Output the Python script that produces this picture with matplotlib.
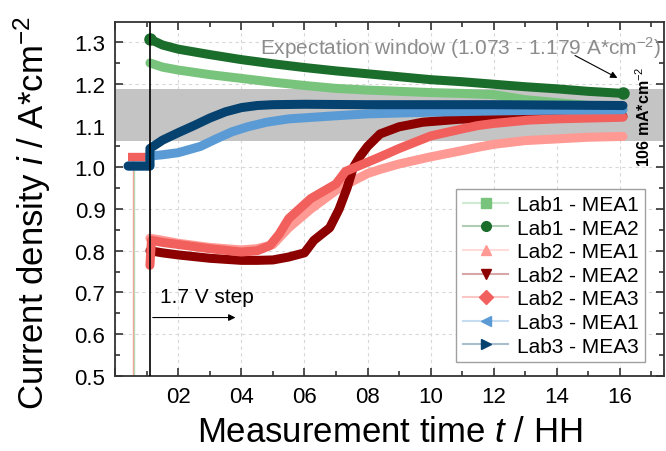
import matplotlib
matplotlib.use("Agg")
import matplotlib.pyplot as plt
from matplotlib.lines import Line2D
from matplotlib.colors import to_rgb
from matplotlib.ticker import MultipleLocator, FuncFormatter

plt.rcParams["font.family"] = ["Liberation Sans", "DejaVu Sans"]
plt.rcParams["mathtext.fontset"] = "custom"
plt.rcParams["mathtext.rm"] = "Liberation Sans"
plt.rcParams["mathtext.it"] = "Liberation Sans:italic"

# Dados (tempo em horas, densidade de corrente em A/cm2)
lab1_mea1_t = [1.1, 1.5, 2, 3, 4, 5, 6, 7, 8, 9, 10, 11, 12, 13, 14, 15, 16.1]
lab1_mea1_y = [1.250, 1.240, 1.233, 1.222, 1.213, 1.204, 1.196, 1.189, 1.185,
               1.182, 1.179, 1.177, 1.174, 1.162, 1.155, 1.148, 1.140]

lab1_mea2_t = [1.1, 1.5, 2, 3, 4, 5, 6, 7, 8, 9, 10, 11, 12, 13, 14, 15, 16.1]
lab1_mea2_y = [1.307, 1.293, 1.283, 1.270, 1.258, 1.248, 1.239, 1.231, 1.224,
               1.217, 1.210, 1.205, 1.199, 1.193, 1.188, 1.182, 1.177]

lab2_mea1_t = [1.1, 1.5, 2, 3, 4, 4.5, 5, 5.5, 6.2, 7.1, 8, 8.4, 9, 10, 11,
               11.5, 12, 13, 14, 15, 16.1]
lab2_mea1_y = [0.830, 0.825, 0.818, 0.808, 0.802, 0.805, 0.815, 0.855, 0.900,
               0.950, 0.985, 0.995, 1.008, 1.025, 1.040, 1.048, 1.055, 1.064,
               1.068, 1.072, 1.074]

lab2_mea2_t = [1.1, 1.5, 2, 3, 4, 4.5, 5, 5.5, 6.0, 6.3, 6.8, 7.1, 7.35, 7.55,
               7.77, 8.0, 8.4, 9, 9.75, 10.9, 12, 14, 16.1]
lab2_mea2_y = [0.800, 0.795, 0.790, 0.782, 0.777, 0.777, 0.778, 0.785, 0.795,
               0.825, 0.855, 0.900, 0.950, 1.000, 1.027, 1.050, 1.080, 1.097,
               1.108, 1.115, 1.118, 1.120, 1.122]

lab2_mea3_t = [1.1, 1.15, 1.5, 2, 3, 4, 4.5, 4.9, 5.2, 5.5, 6.2, 7, 7.3, 8.4,
               9, 10, 11, 11.5, 12, 13.1, 14, 15, 16.1]
lab2_mea3_y = [0.765, 0.825, 0.820, 0.815, 0.805, 0.797, 0.800, 0.812, 0.840,
               0.877, 0.925, 0.960, 0.990, 1.025, 1.045, 1.075, 1.092, 1.100,
               1.105, 1.113, 1.116, 1.118, 1.120]

lab3_mea1_t = [0.41, 1.1, 1.1, 1.5, 2, 2.7, 3.2, 3.7, 4.2, 4.8, 5.5, 6.9, 8,
               10, 12, 14, 16.1]
lab3_mea1_y = [1.003, 1.003, 1.027, 1.030, 1.035, 1.050, 1.068, 1.085, 1.097,
               1.108, 1.116, 1.123, 1.128, 1.132, 1.135, 1.137, 1.138]

lab3_mea3_t = [0.41, 1.1, 1.1, 1.5, 2, 2.5, 3, 3.5, 4, 4.5, 5, 6, 8, 10, 12,
               14, 16.1]
lab3_mea3_y = [1.003, 1.003, 1.045, 1.065, 1.083, 1.100, 1.118, 1.133, 1.143,
               1.148, 1.150, 1.151, 1.150, 1.150, 1.150, 1.149, 1.148]

# trecho antes do degrau (Lab2)
pre_t = [0.41, 1.1]
pre_y = [1.025, 1.025]

janela = (1.062, 1.188)
t_degrau = 1.1
t_inicio = 0.57

series = [
    ("Lab1 - MEA1", lab1_mea1_t, lab1_mea1_y, "#79c47c", "s"),
    ("Lab1 - MEA2", lab1_mea2_t, lab1_mea2_y, "#1b6d2c", "o"),
    ("Lab2 - MEA1", lab2_mea1_t, lab2_mea1_y, "#ff9994", "^"),
    ("Lab2 - MEA2", lab2_mea2_t, lab2_mea2_y, "#8c0000", "v"),
    ("Lab2 - MEA3", lab2_mea3_t, lab2_mea3_y, "#f2605d", "D"),
    ("Lab3 - MEA1", lab3_mea1_t, lab3_mea1_y, "#5b9bd5", "<"),
    ("Lab3 - MEA3", lab3_mea3_t, lab3_mea3_y, "#06426f", ">"),
]


def clarear(cor, f=0.65):
    r, g, b = to_rgb(cor)
    return (r + (1 - r) * f, g + (1 - g) * f, b + (1 - b) * f)


fig = plt.figure(figsize=(6.66, 4.52), dpi=100)
ax = fig.add_axes([0.173, 0.166, 0.824, 0.783])

ax.axhspan(janela[0], janela[1], color="#c4c4c4", lw=0, zorder=1)

ax.vlines(t_inicio, 0.5, 1.02, color="#ff9994", lw=1, zorder=2)
ax.vlines(t_inicio + 0.04, 0.5, 1.0, color="#b5dbb5", lw=1, zorder=2)
ax.plot(pre_t, pre_y, color="#f2605d", lw=6, solid_capstyle="butt", zorder=3)

handles = []
for nome, t, y, cor, mk in series:
    ax.plot(t, y, color=cor, lw=6.5, solid_capstyle="round",
            solid_joinstyle="round", zorder=3)
    handles.append(Line2D([], [], color=clarear(cor), lw=1.5, marker=mk,
                          ms=7, mfc=cor, mec=cor, label=nome))
# circulos nas pontas do Lab1 - MEA2
ax.plot(lab1_mea2_t[-1], lab1_mea2_y[-1], "o", color="#1b6d2c", ms=8, zorder=3)
ax.plot(lab1_mea2_t[0], lab1_mea2_y[0], "o", color="#1b6d2c", ms=8, zorder=3)

ax.axvline(t_degrau, color="black", lw=1.2, zorder=4)

ax.set_xlim(0, 17.4)
ax.set_ylim(0.5, 1.348)
ax.xaxis.set_major_locator(MultipleLocator(2))
ax.xaxis.set_minor_locator(MultipleLocator(1))
ax.yaxis.set_major_locator(MultipleLocator(0.1))
ax.yaxis.set_minor_locator(MultipleLocator(0.05))
ax.xaxis.set_major_formatter(FuncFormatter(lambda v, p: "%02d" % v if v > 0 else ""))
ax.yaxis.set_major_formatter(FuncFormatter(lambda v, p: "%.1f" % v))
ax.tick_params(which="both", direction="in", top=True, right=True,
               color="#333333", width=1.2)
ax.tick_params(which="major", length=6, labelsize=16, pad=7)
ax.tick_params(which="minor", length=3.5)
for s in ax.spines.values():
    s.set_linewidth(1.3)
    s.set_color("#333333")
ax.grid(True, which="major", ls=(0, (3, 3)), color="#d8d8d8", lw=0.8)
ax.set_axisbelow(True)

ax.set_xlabel("Measurement time $\\mathit{t}$ / HH", fontsize=25, labelpad=6)
ax.set_ylabel("Current density $\\mathit{i}$ / A*cm$^{-2}$", fontsize=25)
ax.yaxis.set_label_coords(-0.113, 0.463)

ax.text(4.6, 1.288, "Expectation window (1.073 - 1.179 A*cm$^{-2}$)",
        fontsize=15, color="#8c8c8c", va="center", zorder=5)
ax.annotate("", xy=(16.0, 1.211), xytext=(14.5, 1.271),
            arrowprops=dict(arrowstyle="-|>", color="black", lw=0.8,
                            mutation_scale=10), zorder=5)
ax.text(16.75, 1.123, "106 mA*cm$^{-2}$", rotation=90, fontsize=11.5,
        fontweight="bold", ha="center", va="center", zorder=5)

ax.text(1.42, 0.69, "1.7 V step", fontsize=15, va="center", zorder=5)
ax.annotate("", xy=(3.9, 0.64), xytext=(1.1, 0.64),
            arrowprops=dict(arrowstyle="-|>", color="black", lw=0.8,
                            mutation_scale=10), zorder=5)

leg = ax.legend(handles=handles, loc="lower right",
                bbox_to_anchor=(0.965, 0.04), fontsize=15, frameon=True,
                fancybox=False, edgecolor="#a0a0a0", framealpha=1,
                handlelength=2.2, labelspacing=0.22, borderpad=0.3,
                handletextpad=0.4, borderaxespad=0)
leg.get_frame().set_linewidth(1.0)
leg.set_zorder(6)

fig.savefig("out.png", dpi=100)
